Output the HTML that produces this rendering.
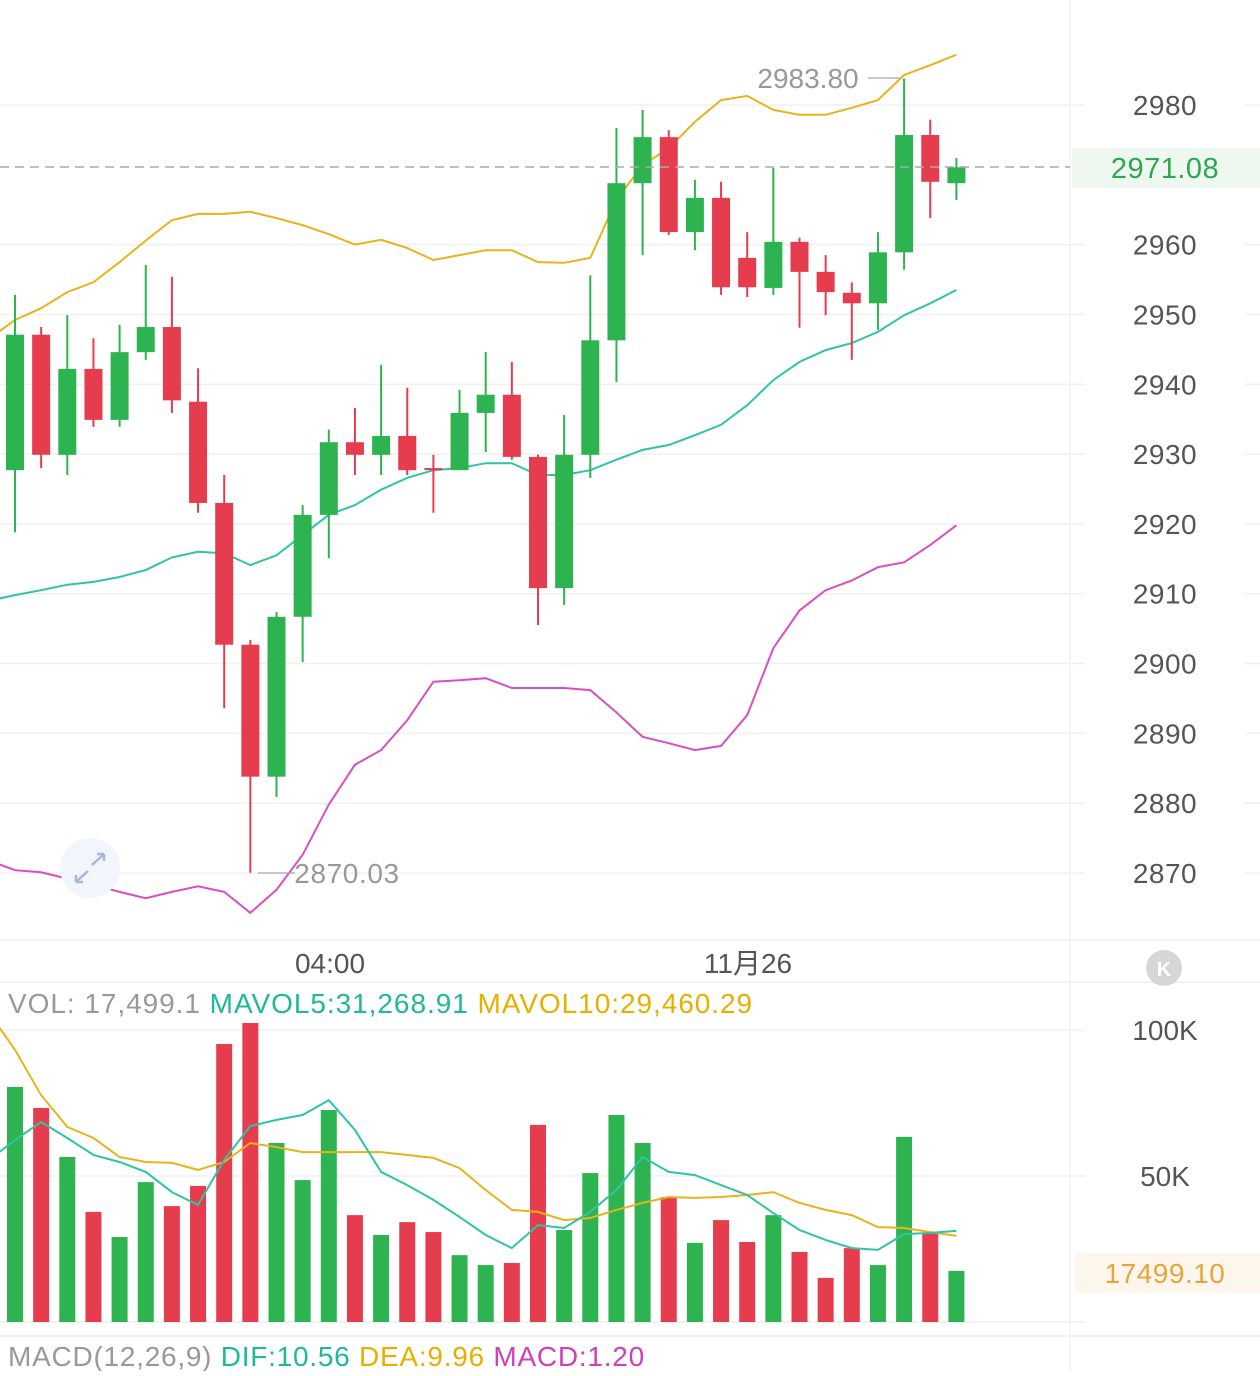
<!DOCTYPE html>
<html><head><meta charset="utf-8"><style>
body{margin:0;background:#fff;width:1260px;height:1371px;overflow:hidden;font-family:"Liberation Sans","Noto Sans CJK SC",sans-serif}
svg text{font-family:"Liberation Sans","Noto Sans CJK SC",sans-serif}
</style></head><body>
<svg id="chart" width="1260" height="1371" viewBox="0 0 1260 1371" xmlns="http://www.w3.org/2000/svg">
<g id="grid"></g>
<g id="bands"></g>
<g id="candles"></g>
<g id="vols"></g>
<g id="labels"></g>
</svg>
<script>
const opens=[2927.7,2947.1,2929.9,2942.2,2934.9,2944.6,2948.2,2937.5,2923,2902.7,2883.8,2906.7,2921.3,2931.7,2929.9,2932.6,2928.0,2927.7,2935.9,2938.5,2929.6,2910.8,2929.9,2946.3,2968.8,2975.4,2961.8,2966.7,2958.1,2953.8,2960.4,2956.1,2953.1,2951.6,2958.9,2975.7,2968.8];
const closes=[2947.1,2929.9,2942.2,2934.9,2944.6,2948.2,2937.7,2923.0,2902.7,2883.8,2906.7,2921.3,2931.7,2929.9,2932.6,2927.7,2927.7,2935.9,2938.5,2929.6,2910.8,2929.9,2946.3,2968.8,2975.4,2961.8,2966.7,2953.9,2953.9,2960.4,2956.1,2953.2,2951.6,2958.9,2975.7,2969.0,2971.08];
const highs=[2952.8,2948.2,2949.9,2946.6,2948.5,2957.1,2955.4,2942.3,2927,2903.4,2907.4,2922.7,2933.5,2936.6,2942.8,2939.5,2929.9,2939.2,2944.6,2943.2,2929.9,2935.6,2955.6,2976.7,2979.3,2976.4,2969.3,2969.0,2961.8,2971.0,2961.0,2958.5,2954.6,2961.8,2983.8,2977.9,2972.4];
const lows=[2918.8,2928.0,2927.0,2933.9,2933.9,2943.5,2935.9,2921.6,2893.6,2870.03,2880.9,2900.2,2915.1,2927,2927,2927,2921.6,2927.7,2930.3,2929.2,2905.5,2908.4,2926.6,2940.3,2958.5,2961.4,2959.2,2952.8,2952.5,2952.8,2948.1,2949.9,2943.5,2947.8,2956.4,2963.8,2966.4];
const upper=[2946.5,2949.2,2950.9,2953.2,2954.6,2957.5,2960.6,2963.5,2964.4,2964.4,2964.7,2963.8,2962.8,2961.5,2960.0,2960.7,2959.5,2957.8,2958.5,2959.2,2959.2,2957.5,2957.4,2958.1,2966.4,2971.4,2973.8,2977.6,2980.7,2981.3,2979.3,2978.6,2978.6,2979.6,2980.7,2984.3,2985.7,2987.2];
const mid=[2909.0,2909.8,2910.5,2911.3,2911.7,2912.4,2913.4,2915.2,2916.0,2915.8,2914.1,2915.5,2918.4,2921.3,2922.7,2924.9,2926.6,2927.7,2928.0,2928.7,2928.7,2927.0,2927.0,2927.7,2929.2,2930.6,2931.3,2932.7,2934.2,2937.0,2940.6,2943.2,2944.9,2945.9,2947.5,2949.9,2951.6,2953.5];
const lower=[2871.8,2870.4,2870.1,2869.2,2868.3,2867.3,2866.4,2867.3,2868.1,2867.3,2864.3,2867.6,2872.6,2879.8,2885.5,2887.6,2891.9,2897.4,2897.6,2897.9,2896.5,2896.5,2896.5,2896.2,2893.0,2889.5,2888.6,2887.6,2888.2,2892.6,2902.2,2907.6,2910.5,2911.9,2913.8,2914.5,2917.0,2919.8];
const volumes=[80.5,73.3,56.5,37.7,29.1,47.9,39.7,46.6,95.2,102.4,61.3,48.6,72.6,36.6,29.8,34.2,30.8,22.9,19.5,20.2,67.5,31.5,51.0,70.9,61.3,42.8,27.1,34.9,27.4,36.6,24.0,15.1,25.3,19.5,63.4,30.5,17.5];
const mavol5=[55.5,62.3,68.5,63.0,57.2,54.8,51.4,44.5,40.1,55.5,67.1,69.2,70.9,76.0,65.8,51.4,46.9,41.8,36.0,29.8,25.3,33.2,32.2,37.7,45.2,56.5,51.4,50.3,46.9,43.5,37.3,31.5,28.1,25.3,24.7,30.1,30.5,31.2];
const mavol10=[106,93.2,77.7,66.8,63.0,56.5,54.8,54.5,52.1,54.8,61.3,59.9,58.2,58.2,58.2,58.2,57.2,56.2,52.7,45.2,38.4,37.7,34.9,35.6,38.4,40.8,42.8,42.5,42.8,43.5,44.5,40.8,38.4,36.6,32.5,32.2,30.8,29.5];
const priceTicks=[2980,2970,2960,2950,2940,2930,2920,2910,2900,2890,2880,2870];
const priceLabels=[2980,2960,2950,2940,2930,2920,2910,2900,2890,2880,2870];
const volTicks=[100,50];

const NS='http://www.w3.org/2000/svg';
const X=i=>15+i*26.15;
const Y=p=>105+(2980-p)*6.982;
const VY=v=>1322-v/50*146;
const GREEN='#2eb351',RED='#e63d4e';
function mk(parent,tag,attrs,txt){const e=document.createElementNS(NS,tag);for(const k in attrs)e.setAttribute(k,attrs[k]);if(txt!==undefined)e.textContent=txt;document.getElementById(parent).appendChild(e);return e;}

priceTicks.forEach(p=>{if(p===2970)return;const l=mk('grid','line',{x1:0,x2:1085,y1:Y(p),y2:Y(p),stroke:'#f0f0f0','stroke-width':1.5});


mk('grid','line',{x1:1245,x2:1260,y1:Y(p),y2:Y(p),stroke:'#f0f0f0','stroke-width':1.5});});
volTicks.forEach(v=>{const l=mk('grid','line',{x1:0,x2:1085,y1:VY(v),y2:VY(v),stroke:'#f0f0f0','stroke-width':1.5});

});
mk('grid','line',{x1:1070,x2:1070,y1:0,y2:1371,stroke:'#f3f3f3','stroke-width':1.5});
mk('grid','line',{x1:0,x2:1260,y1:940,y2:940,stroke:'#eeeeee','stroke-width':1.5});
mk('grid','line',{x1:0,x2:1260,y1:982,y2:982,stroke:'#eeeeee','stroke-width':1.5});
mk('grid','line',{x1:0,x2:1085,y1:1322,y2:1322,stroke:'#eeeeee','stroke-width':1.5});
mk('grid','line',{x1:0,x2:1260,y1:1336,y2:1336,stroke:'#eeeeee','stroke-width':1.5});

function path(arr,yf,color,g,name){const d=arr.map((v,i)=>(i?'L':'M')+X(i-1).toFixed(1)+' '+yf(v).toFixed(1)).join(' ');
const e=mk(g,'path',{d:d,fill:'none',stroke:color,'stroke-width':2});

}
path(upper,Y,'#e8b31c','bands','boll-upper-line');
path(mid,Y,'#2fc4a6','bands','boll-mid-line');
path(lower,Y,'#d94fc0','bands','boll-lower-line');

opens.forEach((o,i)=>{const c=closes[i];const col=c>=o?GREEN:RED;const x=X(i);
const w=mk('candles','line',{x1:x,x2:x,y1:Y(highs[i]),y2:Y(lows[i]),stroke:col,'stroke-width':2});


const top=Y(Math.max(o,c)),bot=Y(Math.min(o,c));
const r=mk('candles','rect',{x:x-9,y:top,width:18,height:Math.max(2,bot-top),fill:col});

});

volumes.forEach((v,i)=>{const col=closes[i]>=opens[i]?GREEN:RED;
const r=mk('vols','rect',{x:X(i)-8,y:VY(v),width:16,height:1322-VY(v),fill:col});

});
path(mavol10,VY,'#e8b31c','vols','mavol10-line');
path(mavol5,VY,'#2fc4a6','vols','mavol5-line');

priceLabels.forEach(p=>{const t=mk('labels','text',{x:1165,y:Y(p)+10,'font-size':28,fill:'#555','text-anchor':'middle','letter-spacing':0.5},String(p));

});
volTicks.forEach(v=>{const t=mk('labels','text',{x:1165,y:VY(v)+10,'font-size':28,fill:'#555','text-anchor':'middle'},v+'K');

});
</script>
<svg style="position:absolute;left:0;top:0" width="1260" height="1371">
<line x1="0" x2="1070" y1="167" y2="167" stroke="#aaa" stroke-width="1.5" stroke-dasharray="9,6"/>
<rect x="1072" y="148" width="188" height="40" fill="#eef8f0"/>
<text x="1165" y="178" font-size="29" fill="#2ea84e" text-anchor="middle" letter-spacing="0.5">2971.08</text>
<line x1="868" x2="900" y1="78" y2="78" stroke="#aaa" stroke-width="1.2"/>
<text x="808" y="88" font-size="28" fill="#999" text-anchor="middle">2983.80</text>
<line x1="258" x2="295" y1="873" y2="873" stroke="#aaa" stroke-width="1.2"/>
<text x="347" y="883" font-size="28" fill="#999" text-anchor="middle" letter-spacing="0.6">2870.03</text>
<circle cx="90" cy="868" r="30" fill="#f2f5fc"/>
<path d="M76 882 L88 871 M76 882 L76 875 M76 882 L83 882 M104 854 L92 865 M104 854 L104 861 M104 854 L97 854" stroke="#a7b5e0" stroke-width="2.5" fill="none"/>
<text x="330" y="973" font-size="28" fill="#555" text-anchor="middle">04:00</text>
<text x="748" y="973" font-size="28" fill="#555" text-anchor="middle">11月26</text>
<circle cx="1164" cy="968" r="18" fill="#d6d6d6"/>
<text x="1164" y="976" font-size="20" fill="#fff" text-anchor="middle" font-weight="bold">K</text>
<text x="8" y="1013" font-size="28" letter-spacing="0.95"><tspan fill="#999">VOL: 17,499.1 </tspan><tspan fill="#1fb99a">MAVOL5:31,268.91 </tspan><tspan fill="#e6b000">MAVOL10:29,460.29</tspan></text>
<rect x="1075" y="1253" width="185" height="40" fill="#fdf6ec"/>
<text x="1165" y="1283" font-size="28" fill="#e8a43c" text-anchor="middle" letter-spacing="0.5">17499.10</text>
<text x="8" y="1366" font-size="28" letter-spacing="0.75"><tspan fill="#999">MACD(12,26,9) </tspan><tspan fill="#1fb99a">DIF:10.56 </tspan><tspan fill="#e6b000">DEA:9.96 </tspan><tspan fill="#d040b8">MACD:1.20</tspan></text>
</svg>
</body></html>
